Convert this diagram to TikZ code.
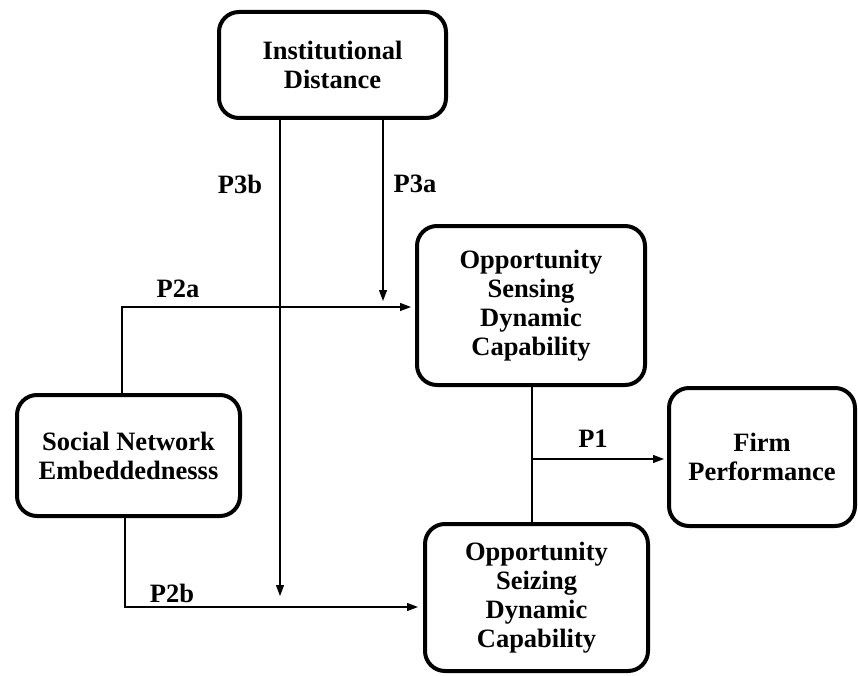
\documentclass[tikz,border=0pt]{standalone}
\usepackage{fontspec}
\setmainfont{Liberation Serif}
\usetikzlibrary{arrows.meta}
\tikzset{
  box/.style={draw, line width=4pt, rounded corners=20pt, align=center,
    inner sep=0pt, font=\fontsize{26.5}{29}\selectfont\bfseries},
  conn/.style={line width=1.2pt},
  arr/.style={conn, -{Triangle[length=11pt,width=8pt]}},
  lab/.style={font=\fontsize{26.5}{29}\selectfont\bfseries, inner sep=0pt}
}
\begin{document}
\begin{tikzpicture}[x=1pt,y=-1pt]
\useasboundingbox (0,0) rectangle (858,676);
\node[box, minimum width=227pt, minimum height=106pt] (inst) at (332.5,65) {Institutional\\Distance};
\node[box, minimum width=228pt, minimum height=159pt] (sens) at (531,305.5) {Opportunity\\Sensing\\Dynamic\\Capability};
\node[box, minimum width=186pt, minimum height=138pt] (firm) at (762,457) {Firm\\Performance};
\node[box, minimum width=223pt, minimum height=121pt] (soc) at (128.5,455.5) {Social Network\\Embeddednesss};
\node[box, minimum width=223pt, minimum height=147pt] (seiz) at (536.5,597.5) {Opportunity\\Seizing\\Dynamic\\Capability};

\coordinate (p3bend) at (280,596);
\coordinate (p3aend) at (383,301);
\coordinate (p1start) at (532,459);

\draw[arr] (inst.south -| p3bend) -- (p3bend);
\draw[arr] (inst.south -| p3aend) -- (p3aend);
\draw[arr, shorten >=4pt] (soc.north -| 122,0) |- (sens.west |- 0,307);
\draw[arr, shorten >=5pt] (soc.south -| 125,0) |- (seiz.west |- 0,607);
\draw[conn] (sens.south -| p1start) -- (seiz.north -| p1start);
\draw[arr, shorten >=3pt] (p1start) -- (firm.west |- p1start);

\node[lab] (l3b) at (240,184) {P3b};
\node[lab] (l3a) at (415,184) {P3a};
\node[lab] (l2a) at (178,289) {P2a};
\node[lab] (l2b) at (172,593) {P2b};
\node[lab] (l1) at (593,439) {P1};
\end{tikzpicture}
\end{document}
